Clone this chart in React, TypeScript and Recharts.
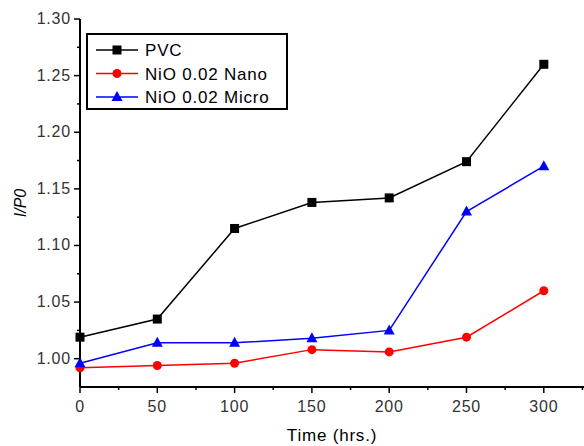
import React from 'react';
import { LineChart, Line, XAxis, YAxis } from 'recharts';

const times = [0, 50, 100, 150, 200, 250, 300];
const pvc = [1.019, 1.035, 1.115, 1.138, 1.142, 1.174, 1.26];
const nano = [0.992, 0.994, 0.996, 1.008, 1.006, 1.019, 1.06];
const micro = [0.996, 1.014, 1.014, 1.018, 1.025, 1.13, 1.17];

const xTicks = [0, 25, 50, 75, 100, 125, 150, 175, 200, 225, 250, 275, 300, 325];
const yTicks = [1.0, 1.025, 1.05, 1.075, 1.1, 1.125, 1.15, 1.175, 1.2, 1.225, 1.25, 1.275, 1.3];

const data = times.map((t, i) => ({ time: t, pvc: pvc[i], nano: nano[i], micro: micro[i] }));

const font = 'Arial, "Liberation Sans", sans-serif';

const isMajor = (v: number, step: number) => Math.abs(v / step - Math.round(v / step)) < 1e-6;

const YTick = (props: any) => {
  const { x, y, payload } = props;
  const major = isMajor(payload.value, 0.05);
  return (
    <g>
      <line x1={x - (major ? 6 : 3)} x2={x} y1={y} y2={y} stroke="#000" strokeWidth={1.5} />
      {major && (
        <text x={x - 9} y={y + 5} textAnchor="end" fontSize={16} fill="#333" fontFamily={font} letterSpacing={0.8}>
          {payload.value.toFixed(2)}
        </text>
      )}
    </g>
  );
};

const XTick = (props: any) => {
  const { x, y, payload } = props;
  const major = isMajor(payload.value, 50);
  return (
    <g>
      <line x1={x} x2={x} y1={y} y2={y + (major ? 6 : 3)} stroke="#000" strokeWidth={1.5} />
      {major && (
        <text x={x} y={y + 25} textAnchor="middle" fontSize={16} fill="#333" fontFamily={font} letterSpacing={0.8}>
          {payload.value}
        </text>
      )}
    </g>
  );
};

const Square = (props: any) => {
  const { cx, cy, index } = props;
  return <rect key={`s${index}`} x={cx - 4.5} y={cy - 4.5} width={9} height={9} fill="#000" />;
};
const Circle = (props: any) => {
  const { cx, cy, index } = props;
  return <circle key={`c${index}`} cx={cx} cy={cy} r={4.5} fill="#ff0000" />;
};
const Tri = (props: any) => {
  const { cx, cy, index } = props;
  return <polygon key={`t${index}`} points={`${cx},${cy - 6} ${cx - 5.5},${cy + 4} ${cx + 5.5},${cy + 4}`} fill="#0000ff" />;
};

const legendItems = [
  { name: 'PVC', color: '#000', shape: 'square' },
  { name: 'NiO 0.02 Nano', color: '#ff0000', shape: 'circle' },
  { name: 'NiO 0.02 Micro', color: '#0000ff', shape: 'tri' },
];

const LegendBox = () => (
  <svg width={202} height={77} style={{ position: 'absolute', left: 86, top: 33 }}>
    <rect x={1} y={1} width={200} height={75} fill="#fff" stroke="#000" strokeWidth={2} />
    {legendItems.map((it, i) => {
      const cy = 17 + i * 23.5;
      return (
        <g key={it.name}>
          <line x1={10} x2={52} y1={cy} y2={cy} stroke={it.color} strokeWidth={1.5} />
          {it.shape === 'square' && <rect x={26.5} y={cy - 4.5} width={9} height={9} fill={it.color} />}
          {it.shape === 'circle' && <circle cx={31} cy={cy} r={4.5} fill={it.color} />}
          {it.shape === 'tri' && <polygon points={`31,${cy - 6} 25.5,${cy + 4} 36.5,${cy + 4}`} fill={it.color} />}
          <text x={59} y={cy + 6} fontSize={17} fill="#000" fontFamily={font} letterSpacing={0.8}>
            {it.name}
          </text>
        </g>
      );
    })}
  </svg>
);

export default function App() {
  return (
    <div style={{ position: 'absolute', left: 0, top: 0, width: 584, height: 446, background: '#fff' }}>
      <LineChart width={584} height={446} data={data} margin={{ top: 19, right: 0, left: 0, bottom: 29 }}>
        <XAxis
          dataKey="time"
          type="number"
          domain={[0, 326]}
          ticks={xTicks}
          interval={0}
          height={30}
          tickSize={0}
          tickMargin={0}
          tick={<XTick />}
          axisLine={{ stroke: '#000', strokeWidth: 2 }}
          label={{ value: 'Time (hrs.)', position: 'insideBottom', offset: -24, fontSize: 17, fill: '#000', fontFamily: font, letterSpacing: 0.8 }}
        />
        <YAxis
          type="number"
          domain={[0.975, 1.3]}
          ticks={yTicks}
          interval={0}
          width={80}
          tickSize={0}
          tickMargin={0}
          tick={<YTick />}
          axisLine={{ stroke: '#000', strokeWidth: 2 }}
          label={{ value: 'I/P0', angle: -90, position: 'insideLeft', offset: 20, fontSize: 16, fill: '#000', fontFamily: font, fontStyle: 'italic', style: { textAnchor: 'middle' } }}
        />
        <Line type="linear" dataKey="pvc" stroke="#000" strokeWidth={1.5} dot={<Square />} isAnimationActive={false} />
        <Line type="linear" dataKey="nano" stroke="#ff0000" strokeWidth={1.5} dot={<Circle />} isAnimationActive={false} />
        <Line type="linear" dataKey="micro" stroke="#0000ff" strokeWidth={1.5} dot={<Tri />} isAnimationActive={false} />
      </LineChart>
      <LegendBox />
    </div>
  );
}
